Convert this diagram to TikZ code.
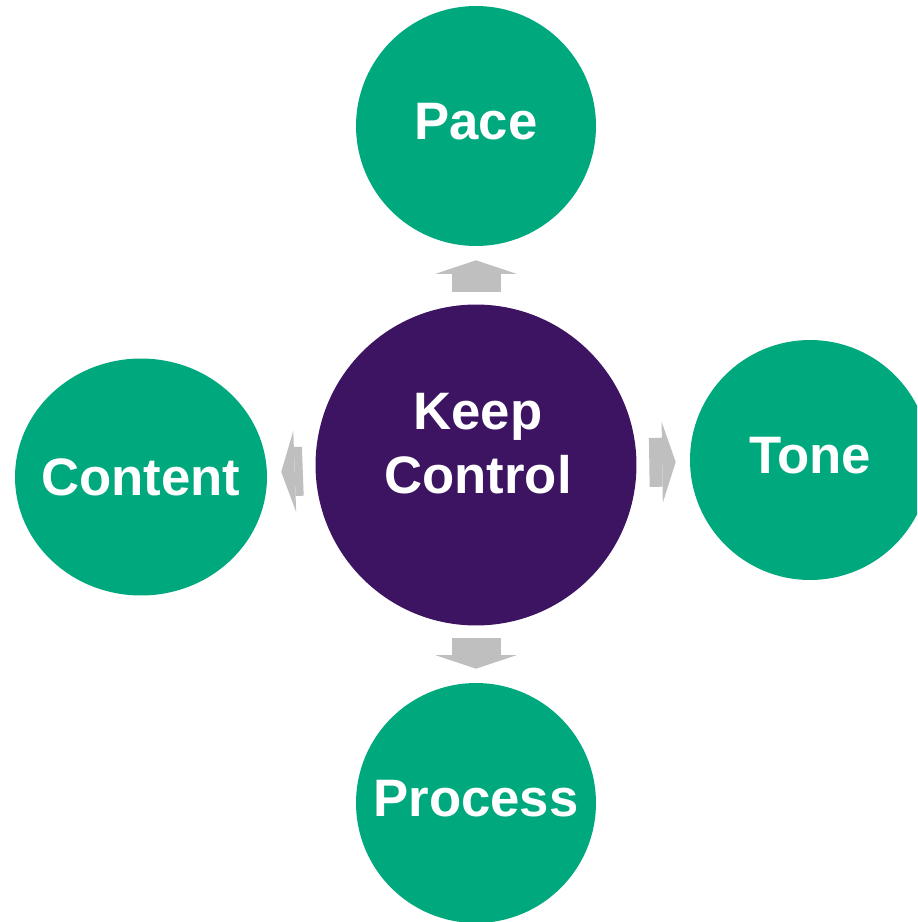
\documentclass[tikz,border=0pt]{standalone}
\usepackage{fontspec}
\setmainfont{Liberation Sans}
\usetikzlibrary{arrows.meta,shapes.geometric}
\definecolor{ctrlgreen}{RGB}{0,168,125}
\definecolor{ctrlpurple}{RGB}{60,20,98}
\definecolor{ctrlgray}{RGB}{191,191,191}
\begin{document}
\begin{tikzpicture}[x=0.02cm,y=-0.02cm,
    bigtext/.style={text=white,font=\fontsize{30}{36.4}\selectfont\bfseries},
    topic/.style={shape=circle,fill=ctrlgreen,minimum size=4.8cm,inner sep=0pt,text depth=0.18cm,bigtext},
    hub/.style={shape=circle,fill=ctrlpurple,minimum size=6.42cm,inner sep=0pt},
    push/.style={draw=ctrlgray,line width=0.98cm,shorten <=0.25cm,shorten >=0.28cm,
        -{Triangle[width=1.62cm,length=0.27cm,line width=0pt]}}]
    \useasboundingbox (0,0) rectangle (917,922);
    \clip (0,0) rectangle (917,922);
    % centre
    \node[hub] (keep) at (476,465) {};
    \node[bigtext,align=center] (keep-text) at (478,444) {Keep\\Control};
    % the four around it
    \node[topic] (pace) at (476,126) {Pace};
    \node[topic] (tone) at (810,460) {Tone};
    \node[topic,shape=ellipse,text depth=0pt,minimum width=5.04cm,minimum height=4.74cm] (content) at (141,477) {\makebox[0pt]{Content}};
    \node[topic] (process) at (476,803) {Process};

    \path
    (keep) edge[push] (pace)
    (keep) edge[push] (tone)
    (keep) edge[push] (content)
    (keep) edge[push] (process)
    ;
\end{tikzpicture}
\end{document}
